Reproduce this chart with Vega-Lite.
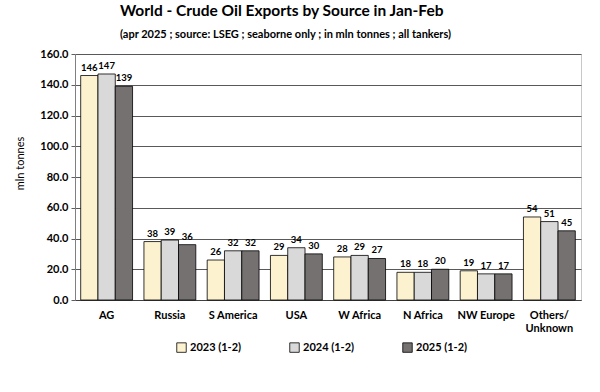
{
  "$schema": "https://vega.github.io/schema/vega-lite/v6.json",
  "width": 506,
  "height": 246,
  "autosize": {"type": "none"},
  "padding": {"left": 75, "top": 54, "right": 19, "bottom": 92},
  "background": "white",
  "title": {
    "text": "World - Crude Oil Exports by Source in Jan-Feb",
    "subtitle": "(apr 2025 ; source: LSEG ; seaborne only ; in mln tonnes ; all tankers)",
    "anchor": "start",
    "frame": "group",
    "dx": 45,
    "offset": 8,
    "font": "Lato",
    "fontSize": 15.5,
    "fontWeight": "bold",
    "color": "#000000",
    "subtitleFont": "Lato",
    "subtitleFontSize": 11,
    "subtitleFontWeight": "bold",
    "subtitleColor": "#000000",
    "subtitlePadding": 10
  },
  "config": {
    "view": {"stroke": "#c8c8c8", "strokeWidth": 1},
    "font": "Lato"
  },
  "data": {
    "values": [
      {"region": "AG", "year": "2023 (1-2)", "value": 146},
      {"region": "AG", "year": "2024 (1-2)", "value": 147},
      {"region": "AG", "year": "2025 (1-2)", "value": 139},
      {"region": "Russia", "year": "2023 (1-2)", "value": 38},
      {"region": "Russia", "year": "2024 (1-2)", "value": 39},
      {"region": "Russia", "year": "2025 (1-2)", "value": 36},
      {"region": "S America", "year": "2023 (1-2)", "value": 26},
      {"region": "S America", "year": "2024 (1-2)", "value": 32},
      {"region": "S America", "year": "2025 (1-2)", "value": 32},
      {"region": "USA", "year": "2023 (1-2)", "value": 29},
      {"region": "USA", "year": "2024 (1-2)", "value": 34},
      {"region": "USA", "year": "2025 (1-2)", "value": 30},
      {"region": "W Africa", "year": "2023 (1-2)", "value": 28},
      {"region": "W Africa", "year": "2024 (1-2)", "value": 29},
      {"region": "W Africa", "year": "2025 (1-2)", "value": 27},
      {"region": "N Africa", "year": "2023 (1-2)", "value": 18},
      {"region": "N Africa", "year": "2024 (1-2)", "value": 18},
      {"region": "N Africa", "year": "2025 (1-2)", "value": 20},
      {"region": "NW Europe", "year": "2023 (1-2)", "value": 19},
      {"region": "NW Europe", "year": "2024 (1-2)", "value": 17},
      {"region": "NW Europe", "year": "2025 (1-2)", "value": 17},
      {"region": "Others/Unknown", "year": "2023 (1-2)", "value": 54},
      {"region": "Others/Unknown", "year": "2024 (1-2)", "value": 51},
      {"region": "Others/Unknown", "year": "2025 (1-2)", "value": 45}
    ]
  },
  "encoding": {
    "x": {
      "field": "region",
      "type": "nominal",
      "sort": null,
      "title": null,
      "scale": {"paddingInner": 0.18, "paddingOuter": 0.09},
      "axis": {
        "labelAngle": 0,
        "labelFont": "Lato",
        "labelFontSize": 11,
        "labelFontWeight": "bold",
        "labelColor": "#000000",
        "labelPadding": 9,
        "ticks": false,
        "domainColor": "#404040",
        "labelExpr": "datum.label == 'Others/Unknown' ? ['Others/', 'Unknown'] : datum.label"
      }
    },
    "xOffset": {"field": "year", "type": "nominal"},
    "y": {
      "field": "value",
      "type": "quantitative",
      "title": "mln tonnes",
      "scale": {"domain": [0, 160]},
      "axis": {
        "values": [0, 20, 40, 60, 80, 100, 120, 140, 160],
        "format": ".1f",
        "labelFont": "Lato",
        "labelFontSize": 11,
        "labelFontWeight": "bold",
        "labelColor": "#000000",
        "labelPadding": 3,
        "tickSize": 4,
        "tickColor": "#606060",
        "domainColor": "#808080",
        "gridColor": "#595959",
        "gridWidth": 1,
        "titleFont": "Lato",
        "titleFontSize": 11,
        "titleFontWeight": "normal",
        "titleColor": "#000000",
        "titlePadding": 14,
        "titleY": 109
      }
    }
  },
  "layer": [
    {
      "mark": {"type": "bar", "stroke": "#000000", "strokeWidth": 0.8},
      "encoding": {
        "color": {
          "field": "year",
          "type": "nominal",
          "scale": {"range": ["#fdf2cf", "#d9d9d9", "#767171"]},
          "legend": {
            "orient": "none",
            "legendX": 101,
            "legendY": 288,
            "direction": "horizontal",
            "title": null,
            "symbolType": "square",
            "symbolSize": 90,
            "symbolStrokeColor": "#000000",
            "symbolStrokeWidth": 0.8,
            "labelFont": "Lato",
            "labelFontSize": 11,
            "labelFontWeight": "bold",
            "labelColor": "#000000",
            "labelOffset": 3,
            "columnPadding": 46
          }
        }
      }
    },
    {
      "mark": {"type": "text", "dy": -8, "font": "Lato", "fontSize": 9.5, "fontWeight": "bold", "color": "#000000"},
      "encoding": {
        "text": {"field": "value", "type": "quantitative", "format": ".0f"}
      }
    }
  ]
}
